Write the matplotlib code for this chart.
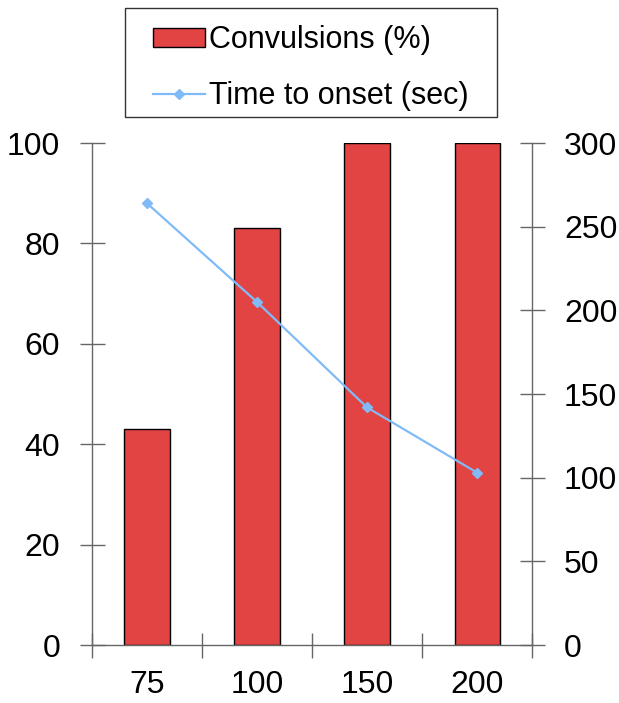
import matplotlib.pyplot as plt
import matplotlib.patches as mpatches
import numpy as np

plt.rcParams['font.family'] = ['Liberation Sans', 'DejaVu Sans']

# Data
doses = ['75', '100', '150', '200']
convulsions_pct = [43, 83, 100, 100]
onset_sec = [264, 205, 142, 103]

bar_color = '#E24343'
line_color = '#80BBF8'
spine_color = '#666666'

fig = plt.figure(figsize=(6.19, 7.03), dpi=100)
ax = fig.add_axes([0.1486, 0.0825, 0.711, 0.714])
ax2 = ax.twinx()

x = np.arange(len(doses))
bars = ax.bar(x, convulsions_pct, width=0.41, color=bar_color,
              edgecolor='black', linewidth=1.0, zorder=2)
line, = ax2.plot(x, onset_sec, color=line_color, linewidth=1.6,
                 marker='D', markersize=5, zorder=3)

ax.set_xlim(-0.5, len(doses) - 0.5)
ax.set_ylim(0, 100)
ax2.set_ylim(0, 300)
ax.set_yticks([0, 20, 40, 60, 80, 100])
ax2.set_yticks([0, 50, 100, 150, 200, 250, 300])

# tick marks at category boundaries, labels at centres
ax.set_xticks(np.arange(-0.5, len(doses), 1.0))
ax.set_xticklabels([])
ax.set_xticks(x, minor=True)
ax.set_xticklabels(doses, minor=True)
ax.tick_params(axis='x', which='major', direction='inout', length=18,
               width=1, color=spine_color)
ax.tick_params(axis='x', which='minor', length=0, pad=18, labelsize=23)

ax.tick_params(axis='y', direction='inout', length=18, width=1,
               color=spine_color, labelsize=23, pad=14)
ax2.tick_params(axis='y', direction='inout', length=18, width=1,
                color=spine_color, labelsize=23, pad=14)

for a in (ax, ax2):
    a.spines['top'].set_visible(False)
    for s in ('left', 'right', 'bottom'):
        a.spines[s].set_color(spine_color)
        a.spines[s].set_linewidth(1.0)
ax.spines['right'].set_visible(False)
ax2.spines['left'].set_visible(False)
ax2.spines['bottom'].set_visible(False)

# legend with its own frame box
W, H = 619, 703
frame = mpatches.Rectangle((125 / W, 1 - 117 / H), (497 - 125) / W, (117 - 8) / H,
                           transform=fig.transFigure, facecolor='white',
                           edgecolor='#333333', linewidth=1.0)
fig.patches.append(frame)

handles = [mpatches.Patch(facecolor=bar_color, edgecolor='black', linewidth=1.0),
           line]
leg = fig.legend(handles, ['Convulsions (%)', 'Time to onset (sec)'],
                 loc='center', bbox_to_anchor=(311 / W, 1 - 68 / H),
                 fontsize=22, frameon=False,
                 handlelength=1.7, handleheight=0.6, handletextpad=0.15,
                 borderpad=0, labelspacing=0.85, borderaxespad=0)

fig.savefig('out.png', dpi=100)
